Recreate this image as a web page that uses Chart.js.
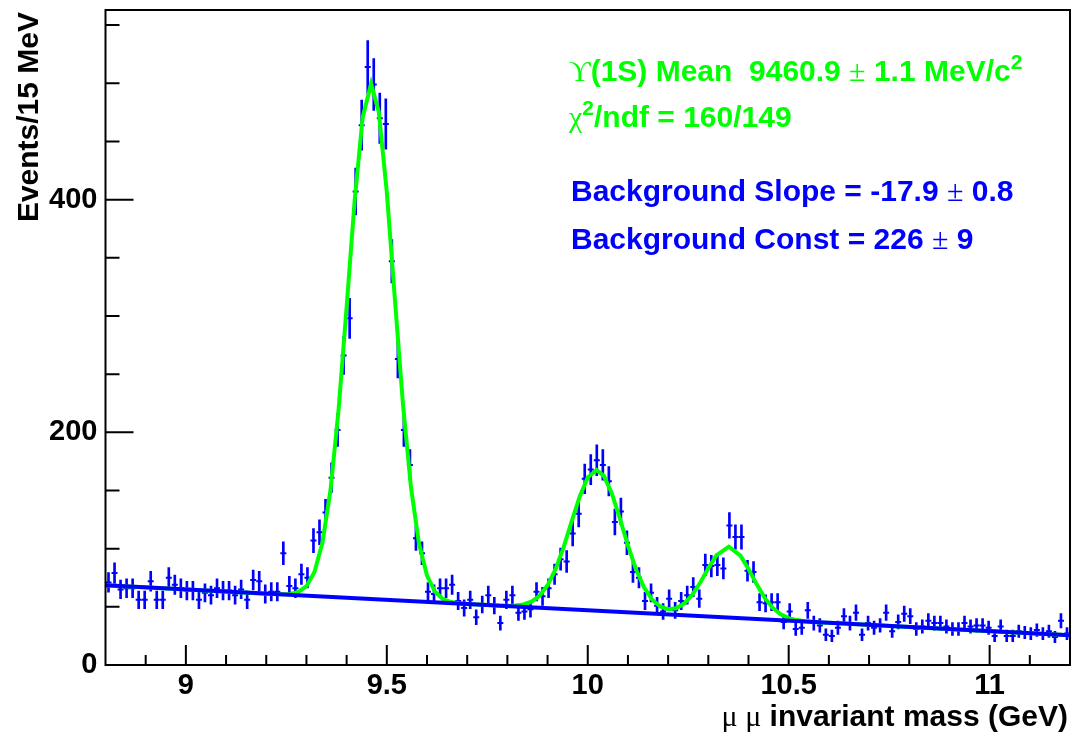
<!DOCTYPE html>
<html>
<head>
<meta charset="utf-8">
<title>Dimuon invariant mass</title>
<script src="https://cdn.jsdelivr.net/npm/chart.js@4.4.1/dist/chart.umd.min.js"></script>
<style>
  html, body { margin: 0; padding: 0; background: #ffffff; }
  #wrap { width: 1076px; height: 738px; }
</style>
</head>
<body>
<div id="wrap"><canvas id="massChart" width="1076" height="738"></canvas></div>
<script>
// Histogram binning: 15 MeV bins between 8.8 and 11.2 GeV
const massMin = 8.8;
const massMax = 11.2;
const binWidth = 0.015;

// Events per bin
const counts = [
  71, 79, 65, 66, 66, 56, 56, 72, 56, 56,
  75, 69, 66, 64, 64, 56, 62, 60, 66, 64,
  64, 60, 65, 56, 73, 72, 61, 63, 63, 96,
  68, 66, 78, 75, 107, 114, 131, 161, 202, 266,
  298, 407, 464, 514, 499, 470, 465, 347, 263, 202,
  172, 109, 96, 63, 61, 66, 66, 69, 55, 49,
  56, 41, 52, 60, 51, 36, 56, 60, 45, 46,
  48, 63, 59, 66, 78, 91, 89, 113, 130, 160,
  168, 176, 172, 158, 123, 132, 105, 80, 75, 55,
  62, 51, 46, 57, 47, 55, 60, 67, 57, 86,
  85, 86, 83, 120, 110, 110, 81, 80, 54, 53,
  54, 54, 37, 46, 31, 32, 47, 36, 34, 26,
  25, 32, 42, 36, 45, 26, 36, 32, 34, 45,
  29, 37, 44, 42, 31, 33, 38, 36, 36, 33,
  31, 31, 36, 33, 34, 34, 32, 25, 33, 25,
  25, 29, 28, 27, 30, 27, 29, 24, 38, 27
];

// Total fit curve (three Upsilon peaks on top of the background)
const fitMass = [
  8.80, 9.00, 9.20, 9.22, 9.24, 9.26, 9.28, 9.30, 9.32, 9.34,
  9.36, 9.38, 9.40, 9.42, 9.44, 9.4609, 9.48, 9.50, 9.52, 9.54,
  9.56, 9.58, 9.60, 9.62, 9.64, 9.66, 9.68, 9.70, 9.74, 9.78,
  9.80, 9.82, 9.84, 9.86, 9.88, 9.90, 9.92, 9.94, 9.96, 9.98,
  10.00, 10.022, 10.04, 10.06, 10.08, 10.10, 10.12, 10.14, 10.16, 10.18,
  10.20, 10.22, 10.24, 10.26, 10.28, 10.30, 10.32, 10.351, 10.38, 10.40,
  10.42, 10.44, 10.46, 10.48, 10.50, 10.52, 10.54, 10.56, 10.58, 10.60,
  10.80, 11.00, 11.20
];
const fitTotal = [
  68.5, 64.9, 61.3, 61.0, 60.8, 61.1, 62.8, 67.7, 80.0, 105.4,
  150.7, 219.5, 307.6, 399.4, 470.9, 499.7, 475.4, 406.5, 314.9, 224.8,
  152.9, 104.6, 76.8, 62.9, 56.6, 54.1, 53.0, 52.4, 51.7, 51.0,
  50.9, 51.1, 52.0, 54.4, 59.5, 68.5, 82.4, 101.3, 123.4, 144.9,
  161.1, 167.6, 162.6, 147.4, 125.8, 102.8, 82.3, 66.7, 56.3, 50.3,
  48.0, 48.8, 52.8, 60.3, 70.9, 83.1, 94.2, 101.7, 94.0, 82.5,
  69.5, 57.9, 49.2, 43.6, 40.3, 38.6, 37.6, 37.1, 36.6, 36.3,
  32.7, 29.1, 25.5
];

// Linear background: const + slope * mass
const bgConst = 226;
const bgSlope = -17.9;

// Axes
const xTickValues = [9, 9.5, 10, 10.5, 11];
const xTickLabels = ['9', '9.5', '10', '10.5', '11'];
const yTickValues = [0, 200, 400];
const yTickLabels = ['0', '200', '400'];
const yMax = 563;
const xMinorStep = 0.1;
const yMinorStep = 50;

const SANS = '"Liberation Sans", Arial, Helvetica, sans-serif';
const SERIF = '"Liberation Serif", "DejaVu Serif", "Times New Roman", serif';
const GREEN = '#00ff00';
const BLUE = '#0000ff';

const centers = counts.map((_, i) => massMin + binWidth * (i + 0.5));
const errorBars = counts.map((n, i) => ({ x: centers[i], y: [n - Math.sqrt(n), n + Math.sqrt(n)] }));
const binMarks = counts.map((n, i) => ({ x: centers[i], y: n }));
const fitPoints = fitMass.map((m, i) => ({ x: m, y: fitTotal[i] }));
const bgPoints = [massMin, massMax].map(m => ({ x: m, y: bgConst + bgSlope * m }));

// Draw a sequence of text runs with their own fonts, starting at x (or ending at x)
function drawRuns(ctx, runs, x, y, align) {
  let total = 0;
  runs.forEach(r => { ctx.font = r.font; total += ctx.measureText(r.text).width; });
  let cx = align === 'right' ? x - total : x;
  ctx.textAlign = 'left';
  ctx.textBaseline = 'alphabetic';
  runs.forEach(r => {
    ctx.font = r.font;
    ctx.fillText(r.text, cx, y - (r.rise || 0));
    cx += ctx.measureText(r.text).width;
  });
}

const B30 = 'bold 30px ' + SANS;
const S30 = '30px ' + SERIF;
const SUP = 'bold 21px ' + SANS;

const frameAndLabels = {
  id: 'frameAndLabels',
  afterDraw(chart) {
    const ctx = chart.ctx;
    const area = chart.chartArea;
    const xs = chart.scales.x;
    const ys = chart.scales.y;
    ctx.save();
    ctx.strokeStyle = '#000000';
    ctx.lineWidth = 2;

    // inward tick marks on the bottom axis
    ctx.beginPath();
    const nx = Math.round((massMax - massMin) / xMinorStep);
    for (let k = 1; k < nx; k++) {
      const v = massMin + k * xMinorStep;
      const px = xs.getPixelForValue(v);
      const major = xTickValues.some(t => Math.abs(t - v) < 1e-6);
      const len = major ? 20 : 10;
      ctx.moveTo(px, area.bottom);
      ctx.lineTo(px, area.bottom - len);
    }
    // inward tick marks on the left axis
    for (let v = yMinorStep; v < yMax; v += yMinorStep) {
      const py = ys.getPixelForValue(v);
      const major = yTickValues.includes(v);
      const len = major ? 28 : 14;
      ctx.moveTo(area.left, py);
      ctx.lineTo(area.left + len, py);
    }
    ctx.stroke();

    // frame
    ctx.strokeRect(area.left, area.top, area.right - area.left, area.bottom - area.top);

    // axis titles
    ctx.fillStyle = '#000000';
    ctx.save();
    ctx.translate(38, 12);
    ctx.rotate(-Math.PI / 2);
    ctx.font = B30;
    ctx.textAlign = 'right';
    ctx.textBaseline = 'alphabetic';
    ctx.fillText('Events/15 MeV', 0, 0);
    ctx.restore();

    drawRuns(ctx, [
      { text: '\u03bc \u03bc', font: S30 },
      { text: ' invariant mass (GeV)', font: B30 }
    ], 1068, 726, 'right');

    // fit results
    ctx.fillStyle = GREEN;
    drawRuns(ctx, [
      { text: '\u03d2', font: S30 },
      { text: '(1S) Mean  9460.9 ', font: B30 },
      { text: '\u00b1', font: S30 },
      { text: ' 1.1 MeV/c', font: B30 },
      { text: '2', font: SUP, rise: 12 }
    ], 569, 81);
    drawRuns(ctx, [
      { text: '\u03c7', font: S30 },
      { text: '2', font: SUP, rise: 12 },
      { text: '/ndf = 160/149', font: B30 }
    ], 569, 127);

    ctx.fillStyle = BLUE;
    drawRuns(ctx, [
      { text: 'Background Slope = -17.9 ', font: B30 },
      { text: '\u00b1', font: S30 },
      { text: ' 0.8', font: B30 }
    ], 571, 201);
    drawRuns(ctx, [
      { text: 'Background Const = 226 ', font: B30 },
      { text: '\u00b1', font: S30 },
      { text: ' 9', font: B30 }
    ], 571, 249);
    ctx.restore();
  }
};

new Chart(document.getElementById('massChart'), {
  type: 'line',
  data: {
    datasets: [
      { type: 'line', data: bgPoints, borderColor: BLUE, borderWidth: 4, pointRadius: 0, tension: 0, order: 0 },
      { type: 'line', data: fitPoints, borderColor: GREEN, borderWidth: 4, pointRadius: 0, tension: 0, order: 1 },
      { type: 'scatter', data: binMarks, pointStyle: 'line', pointRadius: 3, borderColor: BLUE, backgroundColor: BLUE, borderWidth: 2, order: 2 },
      { type: 'bar', data: errorBars, backgroundColor: BLUE, borderWidth: 0, barThickness: 2, order: 3 }
    ]
  },
  options: {
    responsive: false,
    animation: false,
    devicePixelRatio: 1,
    events: [],
    layout: { padding: { left: 0, top: 10, right: 5, bottom: 0 } },
    plugins: { legend: { display: false }, tooltip: { enabled: false } },
    scales: {
      x: {
        type: 'linear', min: massMin, max: massMax, offset: false,
        grid: { display: false, drawTicks: false, offset: false },
        border: { display: false },
        afterBuildTicks: s => { s.ticks = xTickValues.map(v => ({ value: v })); },
        afterFit: s => { s.height = 73; s.paddingLeft = 0; s.paddingRight = 0; },
        ticks: {
          autoSkip: false, maxRotation: 0, padding: 4, color: '#000000',
          font: { family: SANS, size: 29, weight: 'bold' },
          callback: v => xTickLabels[xTickValues.indexOf(v)]
        }
      },
      y: {
        type: 'linear', min: 0, max: yMax,
        grid: { display: false, drawTicks: false },
        border: { display: false },
        afterBuildTicks: s => { s.ticks = yTickValues.map(v => ({ value: v })); },
        afterFit: s => { s.width = 105.5; s.paddingTop = 0; s.paddingBottom = 0; },
        ticks: {
          autoSkip: false, padding: 8, color: '#000000',
          font: { family: SANS, size: 29, weight: 'bold' },
          callback: v => yTickLabels[yTickValues.indexOf(v)]
        }
      }
    }
  },
  plugins: [frameAndLabels]
});
</script>
</body>
</html>
